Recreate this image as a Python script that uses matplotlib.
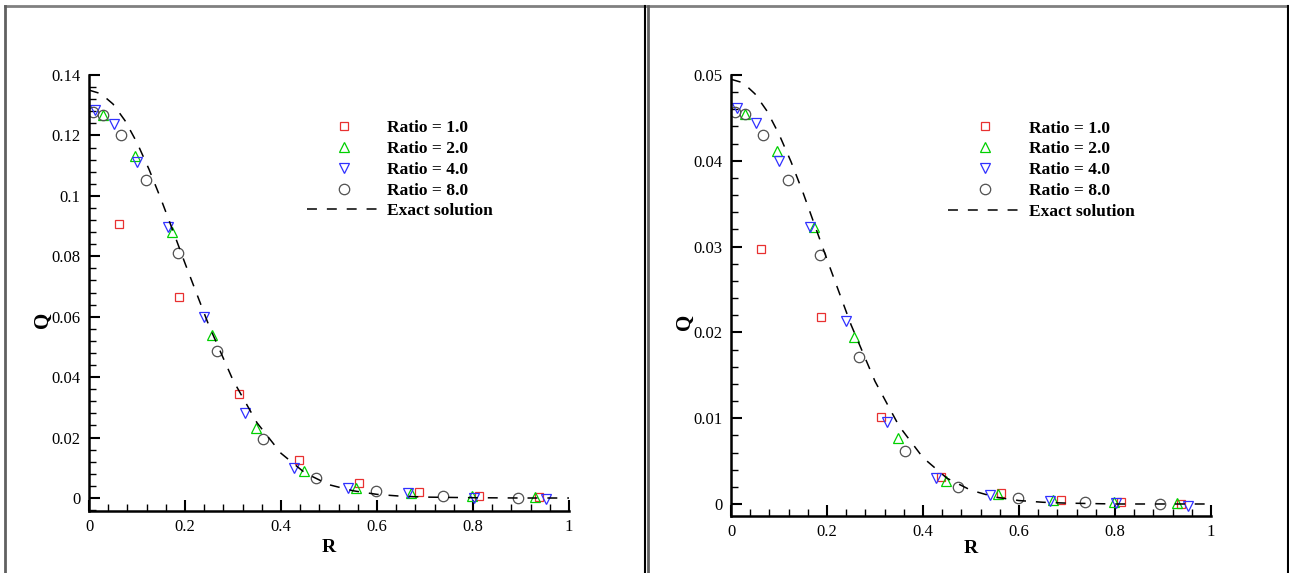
import matplotlib
matplotlib.use("Agg")
import matplotlib.pyplot as plt
from matplotlib.ticker import MultipleLocator, FormatStrFormatter
from matplotlib.lines import Line2D

plt.rcParams['font.family'] = ['Liberation Serif', 'DejaVu Serif']

# ---- data ----
r_ratio1 = [0.0625, 0.1875, 0.3125, 0.4375, 0.5625, 0.6875, 0.8125, 0.9375]
r_ratio2 = [0.030, 0.096, 0.172, 0.256, 0.347, 0.447, 0.556, 0.671, 0.798, 0.930]
r_ratio4 = [0.0125, 0.052, 0.101, 0.164, 0.240, 0.326, 0.427, 0.539, 0.665, 0.803, 0.952]
r_ratio8 = [0.008, 0.030, 0.067, 0.119, 0.186, 0.266, 0.362, 0.473, 0.598, 0.738, 0.893]
r_exact = [0.0, 0.025, 0.05, 0.075, 0.1, 0.125, 0.15, 0.175, 0.2, 0.25, 0.3, 0.35,
           0.4, 0.45, 0.5, 0.55, 0.6, 0.65, 0.7, 0.8, 0.9, 1.0]

# left panel
qa_ratio1 = [0.0906, 0.0666, 0.0343, 0.0126, 0.0049, 0.0021, 0.0007, 0.0002]
qa_ratio2 = [0.1268, 0.1133, 0.0880, 0.0540, 0.0233, 0.0089, 0.0034, 0.0016, 0.0007, 0.0002]
qa_ratio4 = [0.1284, 0.1238, 0.1111, 0.0898, 0.0600, 0.0282, 0.0100, 0.0034, 0.0016, 0.0001, -0.0003]
qa_ratio8 = [0.1279, 0.1268, 0.1202, 0.1053, 0.0812, 0.0488, 0.0194, 0.0067, 0.0024, 0.0007, 0.0000]
qa_exact = [0.135, 0.1338, 0.1304, 0.1249, 0.1176, 0.1088, 0.0989, 0.0884, 0.0777,
            0.0570, 0.0390, 0.0249, 0.0148, 0.0083, 0.0044, 0.0024, 0.0012, 0.0006,
            0.0003, 0.0001, 0.0, 0.0]

# right panel
qb_ratio1 = [0.02976, 0.02176, 0.01018, 0.0031, 0.00124, 0.00047, 0.0002, 0.00003]
qb_ratio2 = [0.0454, 0.0412, 0.0323, 0.01943, 0.00765, 0.00268, 0.00113, 0.00047, 0.00023, 0.0001]
qb_ratio4 = [0.0461, 0.0444, 0.0400, 0.0323, 0.02137, 0.0096, 0.0030, 0.00105, 0.00035, 0.0001, -0.0002]
qb_ratio8 = [0.0457, 0.0454, 0.0430, 0.0378, 0.0290, 0.0171, 0.0062, 0.00195, 0.00074, 0.00027, 0.0]
qb_exact = [0.0495, 0.0491, 0.0478, 0.0458, 0.0431, 0.0399, 0.0363, 0.0324, 0.0285,
            0.0209, 0.0143, 0.0091, 0.0054, 0.0030, 0.0016, 0.0008, 0.0004, 0.0002,
            0.0001, 0.0, 0.0, 0.0]

labels = ['Ratio = 1.0', 'Ratio = 2.0', 'Ratio = 4.0', 'Ratio = 8.0', 'Exact solution']

W, H = 1289, 573
fig = plt.figure(figsize=(W / 100, H / 100), dpi=100)


def px_axes(x0, x1, ytop, ybot):
    return fig.add_axes([x0 / W, 1 - ybot / H, (x1 - x0) / W, (ybot - ytop) / H])


def panel(ax, q1, q2, q4, q8, qe, ylim, major, minor, leg_x, xlab_y, ylab_y):
    ax.plot(r_ratio1, q1, ls='none', marker='s', ms=5.3, mfc='none', mec='#e83030', mew=0.9, label=labels[0])
    ax.plot(r_ratio2, q2, ls='none', marker='^', ms=6.5, mfc='none', mec='#00d000', mew=0.9, label=labels[1])
    ax.plot(r_ratio4, q4, ls='none', marker='v', ms=6.5, mfc='none', mec='#3030ff', mew=0.9, label=labels[2])
    ax.plot(r_ratio8, q8, ls='none', marker='o', ms=7.5, mfc='none', mec='#505050', mew=0.9, label=labels[3])
    ax.plot(r_exact, qe, color='black', lw=1.1, dashes=(6.5, 6.5), label=labels[4])

    ax.set_xlim(0, 1)
    ax.set_ylim(*ylim)
    ax.xaxis.set_major_locator(MultipleLocator(0.2))
    ax.xaxis.set_minor_locator(MultipleLocator(0.04))
    ax.yaxis.set_major_locator(MultipleLocator(major))
    ax.yaxis.set_minor_locator(MultipleLocator(minor))
    ax.xaxis.set_major_formatter(FormatStrFormatter('%g'))
    ax.yaxis.set_major_formatter(FormatStrFormatter('%g'))
    for s in ('top', 'right'):
        ax.spines[s].set_visible(False)
    for s in ('left', 'bottom'):
        ax.spines[s].set_linewidth(1.8)
    ax.tick_params(which='major', direction='in', length=8, width=1.5, labelsize=12, pad=6)
    ax.tick_params(which='minor', direction='in', length=5, width=1.0)
    ax.set_xlabel('R', fontsize=14, fontweight='bold')
    ax.set_ylabel('Q', fontsize=15, fontweight='bold')
    ax.xaxis.set_label_coords(0.5, xlab_y)
    ax.yaxis.set_label_coords(-0.076, ylab_y)

    ax.legend(loc='upper left', bbox_to_anchor=(leg_x, 0.897), frameon=False,
              prop={'weight': 'bold', 'size': 12.5}, handlelength=4.3,
              handletextpad=0.34, labelspacing=0.27, borderpad=0, borderaxespad=0)


ax1 = px_axes(89, 569, 75, 511)
panel(ax1, qa_ratio1, qa_ratio2, qa_ratio4, qa_ratio8, qa_exact,
      (-0.0043, 0.14), 0.02, 0.004, 0.454, -0.064, 0.438)

ax2 = px_axes(731, 1211, 75, 516)
panel(ax2, qb_ratio1, qb_ratio2, qb_ratio4, qb_ratio8, qb_exact,
      (-0.0014, 0.05), 0.01, 0.002, 0.452, -0.054, 0.44)


# panel frames
def fline(xs, ys, **kw):
    fig.add_artist(Line2D([x / W for x in xs], [1 - y / H for y in ys], **kw))


for xl, xr in ((5, 645), (648, 1288)):
    fline([xl, xr], [6, 6], color='#808080', lw=2)
    fline([xl, xl], [6, H], color='#606060', lw=2)
    fline([xr, xr], [6, H], color='black', lw=1.5)

fig.savefig('out.png', dpi=100)
